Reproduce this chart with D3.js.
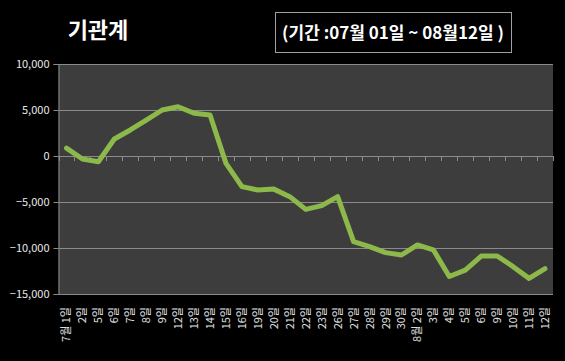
<!DOCTYPE html>
<html><head><meta charset="utf-8">
<script src="https://cdn.jsdelivr.net/npm/d3@7"></script>
<style>
html,body{margin:0;padding:0;background:#000;}
svg{display:block;}
text{font-family:"Noto Sans CJK KR","Noto Sans",sans-serif;}
</style></head>
<body>
<svg id="c" width="565" height="361"></svg>
<script>
const title = "기관계";
const period = "(기간 :07월 01일 ~ 08월12일 )";
const categories = ["7월 1일","2일","5일","6일","7일","8일","9일","12일","13일","14일","15일","16일","19일","20일","21일","22일","23일","26일","27일","28일","29일","30일","8월 2일","3일","4일","5일","6일","9일","10일","11일","12일"];
const values = [850,-330,-620,1850,2830,3900,5000,5360,4640,4450,-800,-3330,-3700,-3600,-4420,-5800,-5400,-4420,-9300,-9850,-10500,-10760,-9670,-10200,-13100,-12400,-10870,-10870,-12030,-13300,-12250];
const yTicks = [10000,5000,0,-5000,-10000,-15000];

const svg = d3.select("#c");
const L = 58.5, R = 553, T = 64, B = 294;

svg.append("rect").attr("width",565).attr("height",361).attr("fill","#000");

const idx = d3.range(categories.length);
const x = d3.scaleBand().domain(idx).range([L,R]);
const y = d3.scaleLinear().domain([-15000,10000]).range([B,T]);

svg.append("rect").attr("x",L).attr("y",T).attr("width",R-L).attr("height",B-T).attr("fill","#3d3d3d");

// grid lines
svg.append("g").selectAll("line").data(yTicks).join("line")
  .attr("x1",L).attr("x2",R)
  .attr("y1",d=>y(d)+0.5).attr("y2",d=>y(d)+0.5)
  .attr("stroke","#8a8a8a").attr("stroke-width",1);

// left axis
const yAxis = d3.axisLeft(y).tickValues(yTicks).tickFormat(d3.format(",")).tickSize(5);
const gy = svg.append("g").attr("transform",`translate(${L},0)`).call(yAxis);
gy.select(".domain").attr("stroke","#8a8a8a");
gy.selectAll(".tick line").attr("stroke","#8a8a8a");
gy.selectAll("text").attr("fill","#e8e8e8").attr("font-size","11px").attr("font-family","'Noto Sans','DejaVu Sans',sans-serif").attr("x",-9);

// zero axis with ticks at category boundaries
const boundaries = idx.map(i=>x(i)).concat([R]);
svg.append("g").selectAll("line").data(boundaries).join("line")
  .attr("x1",d=>Math.round(d)+0.5).attr("x2",d=>Math.round(d)+0.5)
  .attr("y1",y(0)).attr("y2",y(0)+5)
  .attr("stroke","#8a8a8a");

// x labels
svg.append("g").selectAll("text").data(idx).join("text")
  .attr("transform",i=>`translate(${x(i)+x.bandwidth()/2+4},307) rotate(-90)`)
  .attr("text-anchor","end")
  .attr("fill","#e0e0e0").attr("font-size","11px")
  .text(i=>categories[i]);

// line
const line = d3.line().x((d,i)=>x(i)+x.bandwidth()/2).y(d=>y(d));
svg.append("path").datum(values).attr("d",line)
  .attr("fill","none").attr("stroke","#8db84a").attr("stroke-width",5)
  .attr("stroke-linejoin","round").attr("stroke-linecap","round");

// title
svg.append("text").attr("x",98).attr("y",38).attr("text-anchor","middle")
  .attr("fill","#fff").attr("font-size","22px").attr("font-weight","bold").text(title);

// period box
svg.append("rect").attr("x",275.5).attr("y",12.5).attr("width",236).attr("height",40)
  .attr("fill","#000").attr("stroke","#a0a0a0").attr("stroke-width",1);
svg.append("text").attr("x",393).attr("y",39).attr("text-anchor","middle")
  .attr("fill","#fff").attr("font-size","17px").attr("font-weight","bold").text(period);
</script>
</body></html>
